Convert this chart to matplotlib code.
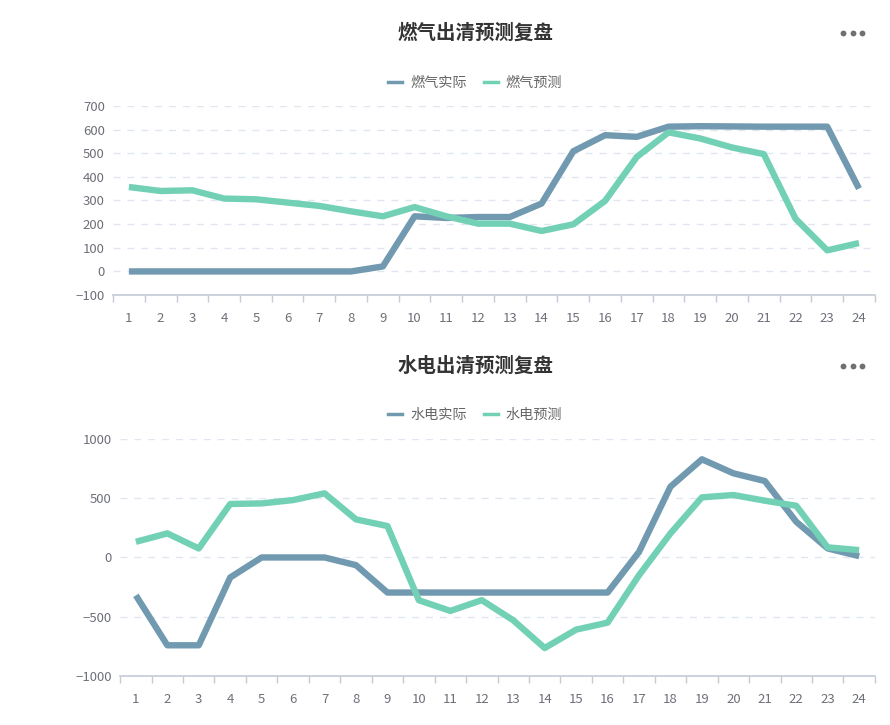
import matplotlib
matplotlib.use("Agg")
import matplotlib.pyplot as plt
from matplotlib.lines import Line2D

plt.rcParams['font.family'] = ['Noto Sans CJK SC', 'DejaVu Sans']

hours = [str(i) for i in range(1, 25)]

gas_actual = [0, 0, 0, 0, 0, 0, 0, 0, 21, 233, 226, 230, 230, 287, 508, 576,
              569, 612, 614, 613, 612, 612, 612, 350]
gas_pred = [357, 340, 343, 308, 305, 291, 277, 254, 233, 272, 233, 202, 202, 171,
            199, 298, 484, 588, 562, 524, 496, 223, 89, 120]

hydro_actual = [-320, -741, -741, -169, 0, 0, 0, -65, -296, -296, -296, -296, -296,
                -296, -296, -296, 47, 597, 828, 710, 645, 301, 76, 11]
hydro_pred = [132, 203, 76, 451, 456, 484, 541, 321, 265, -361, -451, -360, -530,
              -764, -609, -550, -150, 203, 507, 527, 479, 436, 85, 62]

C_ACT = "#7199b0"
C_PRED = "#72d1b5"
TXT = "#6E7079"

fig = plt.figure(figsize=(8.9, 7.25), dpi=100)


def panel(rect, title, names, actual, pred, ylim, yticks, title_y, legend_y):
    ax = fig.add_axes(rect)
    x = list(range(len(hours)))
    for vals, col in ((actual, C_ACT), (pred, C_PRED)):
        ax.plot(x, vals, color=col, lw=4.6, solid_joinstyle="round",
                solid_capstyle="butt", zorder=3)
    ax.set_xlim(-0.5, len(hours) - 0.5)
    ax.set_ylim(*ylim)
    ax.set_yticks(yticks)
    ax.set_yticklabels(["\u2212" + str(-v) if v < 0 else str(v) for v in yticks])
    ax.set_xticks(x)
    ax.set_xticklabels(hours)
    ax.set_xticks([i - 0.5 for i in range(len(hours) + 1)], minor=True)
    ax.tick_params(axis="x", which="major", length=0, pad=12, labelsize=9.5, colors=TXT)
    ax.tick_params(axis="x", which="minor", length=5, color="#c5cad6", width=1)
    ax.tick_params(axis="y", length=0, pad=6, labelsize=9.5, colors=TXT)
    for t in yticks:
        if t != ylim[0]:
            ax.axhline(t, color="#E0E6F1", lw=1, ls=(0, (5, 5)), zorder=1)
    for s in ("top", "right", "left"):
        ax.spines[s].set_visible(False)
    ax.spines["bottom"].set_color("#c5cad6")
    ax.spines["bottom"].set_linewidth(1.2)

    fig.text(0.534, title_y, title, ha="center", va="center", fontsize=14,
             fontweight="bold", color="#333333")
    # the "more" menu dots
    fig.add_artist(Line2D([0.947, 0.958, 0.968], [title_y] * 3, transform=fig.transFigure,
                          ls="none", marker="o", ms=4.2, color="#707070", mec="none"))
    handles = [Line2D([], [], color=C_ACT, lw=2.5), Line2D([], [], color=C_PRED, lw=2.5)]
    fig.legend(handles, names, loc="center", bbox_to_anchor=(0.534, legend_y), ncol=2,
               frameon=False, fontsize=10.2, labelcolor="#666666", handlelength=1.0,
               handletextpad=0.55, columnspacing=1.2)
    return ax


panel([0.127, 0.593, 0.856, 0.261], "燃气出清预测复盘", ["燃气实际", "燃气预测"],
      gas_actual, gas_pred, (-100, 700), list(range(-100, 701, 100)), 0.955, 0.886)
panel([0.135, 0.0676, 0.848, 0.327], "水电出清预测复盘", ["水电实际", "水电预测"],
      hydro_actual, hydro_pred, (-1000, 1000), list(range(-1000, 1001, 500)), 0.495, 0.428)

fig.savefig("out.png", dpi=100)
